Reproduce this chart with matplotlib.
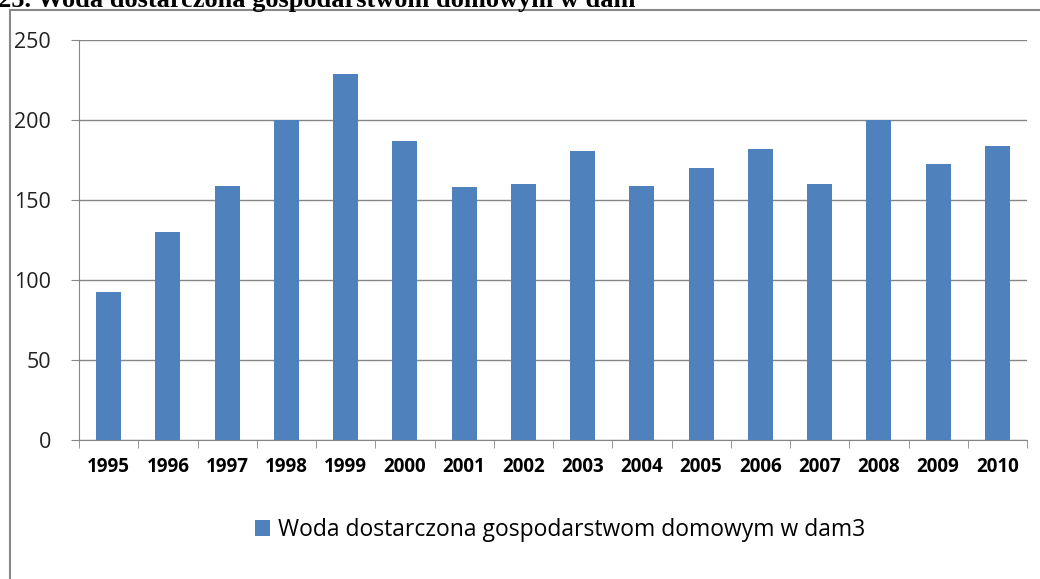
import matplotlib.pyplot as plt
from matplotlib.patches import Rectangle

# dane
lata = ['1995', '1996', '1997', '1998', '1999', '2000', '2001', '2002',
        '2003', '2004', '2005', '2006', '2007', '2008', '2009', '2010']
woda = [92.5, 130, 159, 200, 228.5, 187, 158, 160,
        180.5, 159, 170, 182, 160, 200, 172.5, 183.5]
etykieta = 'Woda dostarczona gospodarstwom domowym w dam3'
tytul = '25. Woda dostarczona gospodarstwom domowym w dam'

fig = plt.figure(figsize=(10.4, 5.79), dpi=100)
W, H = 1040, 579

# ramka wokol wykresu (wychodzi poza obraz)
fig.patches.append(Rectangle((9.5 / W, -0.1), 1.2, 1 - 10 / H + 0.1,
                             transform=fig.transFigure, fill=False,
                             edgecolor='#888888', linewidth=1.5))

# tytul - uciety na gorze, jak w oryginale
fig.text(-2 / W, 1 - 7 / H, tytul, family='Liberation Serif', weight='bold',
         fontsize=19, va='baseline', ha='left')

ax = fig.add_axes([79 / W, 1 - 440 / H, (1027 - 79) / W, 400 / H])
x = range(len(lata))
ax.bar(x, woda, width=0.42, color='#4F81BD', zorder=3, label=etykieta)

ax.set_xlim(-0.5, len(lata) - 0.5)
ax.set_ylim(0, 250)
ax.set_yticks([0, 50, 100, 150, 200, 250])
ax.yaxis.grid(True, color='#868686', linewidth=1)
ax.set_axisbelow(True)

ax.set_xticks(x)
ax.set_xticklabels(lata, family='Open Sans', fontweight='bold', fontsize=13.5)
ax.set_xticks([i - 0.5 for i in range(len(lata) + 1)], minor=True)
ax.tick_params(axis='x', which='major', length=0, pad=12)
ax.tick_params(axis='x', which='minor', length=6, color='#868686', direction='out')
ax.tick_params(axis='y', length=6, color='#868686', pad=14)
for t in ax.get_yticklabels():
    t.set_family('Open Sans')
    t.set_fontsize(15.5)
    t.set_color('#222222')

for s in ['top', 'right']:
    ax.spines[s].set_visible(False)
ax.spines['left'].set_color('#868686')
ax.spines['bottom'].set_color('#868686')

fig.legend(loc='center', bbox_to_anchor=(560 / W, 1 - 530 / H), frameon=False,
           prop={'family': 'Open Sans', 'size': 16.5}, handlelength=0.68,
           handleheight=0.68, handletextpad=0.35)

fig.savefig('out.png', dpi=100)
